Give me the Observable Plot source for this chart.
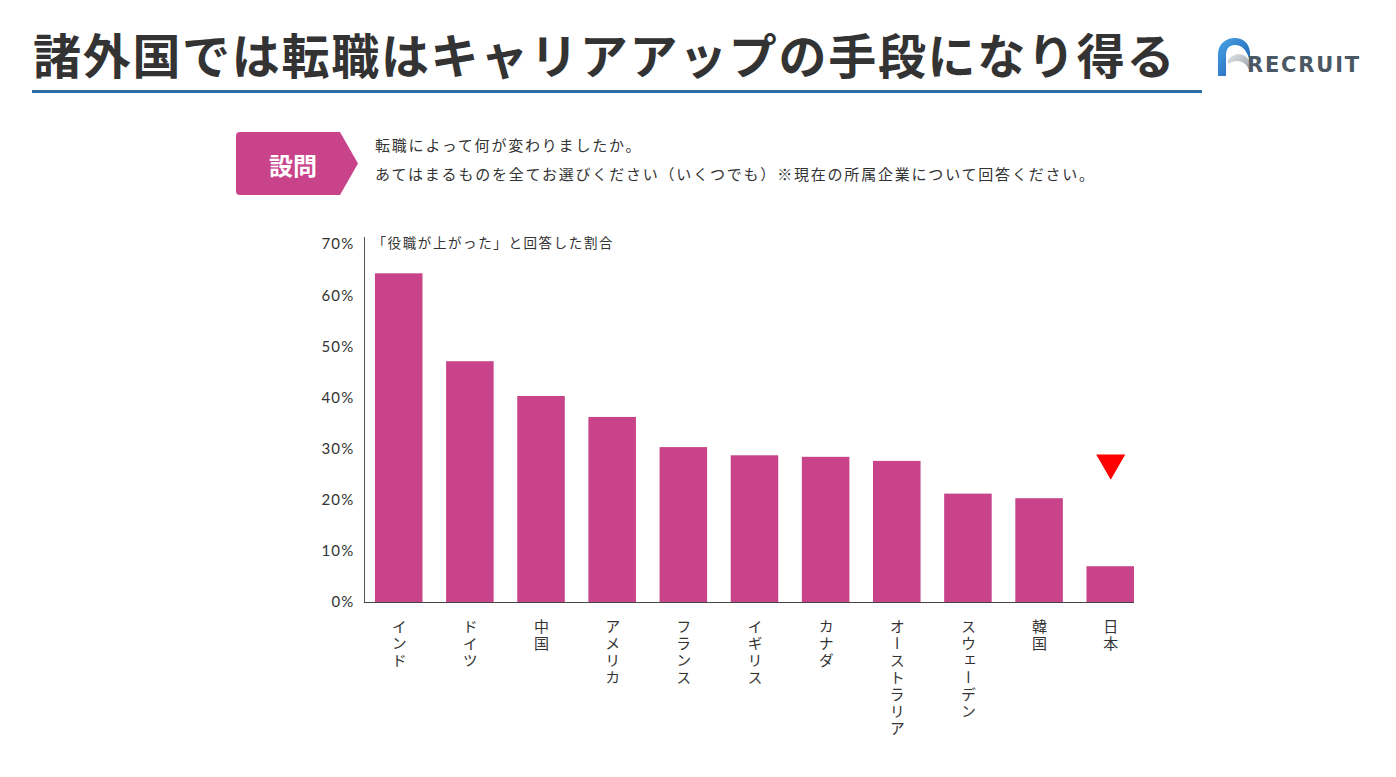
<!DOCTYPE html>
<html lang="ja">
<head>
<meta charset="utf-8">
<script src="https://cdn.jsdelivr.net/npm/d3@7"></script>
<script src="https://cdn.jsdelivr.net/npm/@observablehq/plot@0.6"></script>
<style>
  html, body { margin: 0; padding: 0; background: #fff; }
  body { width: 1396px; height: 777px; position: relative; overflow: hidden;
         font-family: "Noto Sans CJK JP", "Noto Sans", sans-serif; color: #333; }
  #title { position: absolute; left: 33px; top: 29px; font-size: 48px; line-height: 48px;
           font-weight: 700; letter-spacing: 1.7px; color: #333; white-space: nowrap; }
  #rule { position: absolute; left: 32px; top: 90px; width: 1170px; height: 3px; background: #2b6ca3; }
  #logo { position: absolute; left: 1216px; top: 36px; width: 150px; height: 44px; }
  #logo .word { position: absolute; left: 31px; top: 16px; font-family: "DejaVu Sans", sans-serif;
                font-weight: 700; font-size: 21px; line-height: 26px; letter-spacing: 1.8px; color: #4b5864; }
  #qbox { position: absolute; left: 236px; top: 132px; }
  #qtext { position: absolute; left: 375px; top: 130px; font-size: 15px; line-height: 29px; color: #333; letter-spacing: 1.8px; }
  #chart { position: absolute; left: 0; top: 200px; }
</style>
</head>
<body>
<div id="title"></div>
<div id="rule"></div>
<div id="logo">
  <svg width="40" height="44" style="position:absolute;left:0;top:0">
    <defs>
      <linearGradient id="lg" x1="0" y1="0" x2="1" y2="1">
        <stop offset="0" stop-color="#4aa3e6"/>
        <stop offset="1" stop-color="#1a5fae"/>
      </linearGradient>
      <linearGradient id="lg2" x1="0" y1="0" x2="1" y2="1">
        <stop offset="0" stop-color="#e3e6ea"/>
        <stop offset="1" stop-color="#9aa2aa"/>
      </linearGradient>
    </defs>
    <path d="M12 24 C18 16 28 16 33 24 L33 34 C30 26 22 22 12 28 Z" fill="url(#lg2)"/>
    <path d="M2 40 L2 18 C2 8 10 2 19 2 C27 2 33 7 34 16 L34 26 C31 14 26 9 19 9 C13 9 10 13 10 19 L10 40 Z" fill="url(#lg)"/>
  </svg>
  <div class="word">RECRUIT</div>
</div>
<div id="qbox">
  <svg width="125" height="64">
    <path d="M4 0 L104 0 L122 31.5 L104 63 L4 63 Q0 63 0 59 L0 4 Q0 0 4 0 Z" fill="#c8438a"/>
    <text x="57" y="32" text-anchor="middle" dominant-baseline="central" fill="#fff"
          font-family="Noto Sans CJK JP" font-weight="700" font-size="24">設問</text>
  </svg>
</div>
<div id="qtext"></div>
<div id="chart"></div>
<script>
// ---- data ----
const titleText = "諸外国では転職はキャリアアップの手段になり得る";
const questionLines = [
  "転職によって何が変わりましたか。",
  "あてはまるものを全てお選びください（いくつでも）※現在の所属企業について回答ください。"
];
const yLabel = "「役職が上がった」と回答した割合";
const countries = ["インド","ドイツ","中国","アメリカ","フランス","イギリス","カナダ","オーストラリア","スウェーデン","韓国","日本"];
const values = [64.3, 47.1, 40.3, 36.2, 30.3, 28.7, 28.4, 27.6, 21.2, 20.3, 7.0];
const yTicks = [0, 10, 20, 30, 40, 50, 60, 70];
const markerCountry = ["日本"];
const markerValue = [27.3];

// ---- build ----
document.getElementById("title").textContent = titleText;
document.getElementById("qtext").innerHTML = questionLines.map(t => `<div>${t}</div>`).join("");

const data = countries.map((c, i) => ({country: c, value: values[i]}));
const markers = markerCountry.map((c, i) => ({country: c, value: markerValue[i]}));

const plot = Plot.plot({
  width: 1396,
  height: 577,
  marginLeft: 364,
  marginRight: 262,
  marginTop: 37,
  marginBottom: 175,
  style: {fontFamily: "Lato, 'Noto Sans CJK JP', sans-serif", fontSize: "14px", color: "#333", background: "transparent"},
  x: {domain: countries, paddingInner: 0.332, paddingOuter: 0.077, align: 1, round: false},
  y: {domain: [0, 71.4]},
  marks: [
    Plot.barY(data, {x: "country", y: "value", fill: "#c8438a"}),
    Plot.axisY({ticks: yTicks, tickFormat: d => d + "%", tickSize: 0, tickPadding: 10, label: null, fontSize: 15}),
    Plot.axisX({tickSize: 0, tickPadding: 18, label: null, fontSize: 15}),
    Plot.frame({anchor: "left", stroke: "#555"}),
    Plot.ruleY([0], {stroke: "#444"}),
    Plot.text([yLabel], {frameAnchor: "top-left", text: d => d, dx: 8, dy: 6, lineAnchor: "middle", textAnchor: "start", fontSize: 13.5, fill: "#333"}),
    Plot.dot(markers, {x: "country", y: "value", symbol: "triangle", r: 10.8, rotate: 180, fill: "#ff0000", stroke: null})
  ]
});
document.getElementById("chart").appendChild(plot);

// y tick label spacing
d3.select(plot).selectAll('g[aria-label="y-axis tick label"] text')
  .style("letter-spacing", "1.2px");

// y label spacing
d3.select(plot).selectAll('g[aria-label="text"] text')
  .style("letter-spacing", "1.6px");

// vertical Japanese tick labels
d3.select(plot).selectAll('g[aria-label="x-axis tick label"] text')
  .attr("y", -2)
  .attr("dy", null)
  .attr("text-anchor", "start")
  .style("writing-mode", "vertical-rl")
  .style("font-family", "'Noto Sans CJK JP', sans-serif")
  .style("letter-spacing", "2px")
  .attr("fill", "#333");
</script>
</body>
</html>
